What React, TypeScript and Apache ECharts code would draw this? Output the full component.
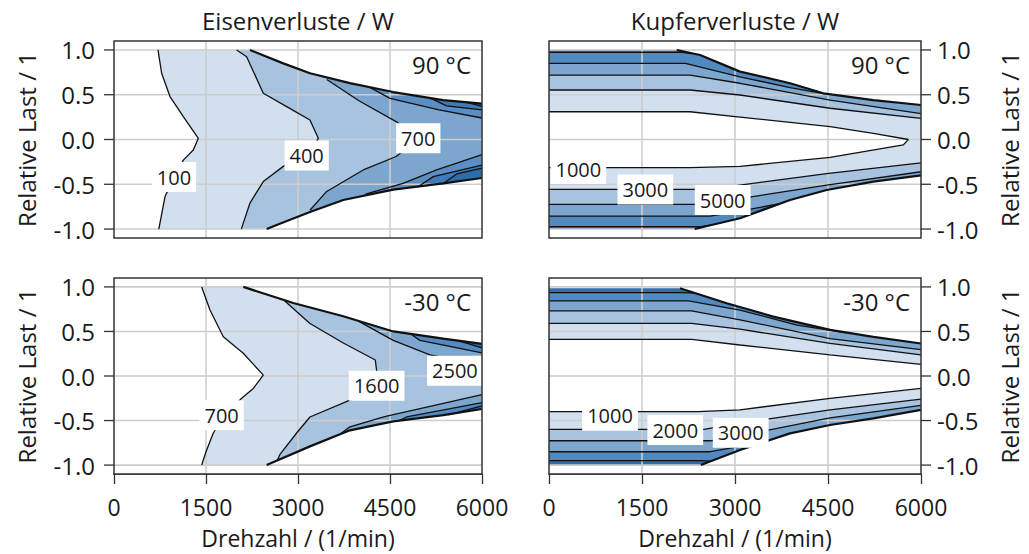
import React, { useEffect, useRef } from "react";
import * as echarts from "echarts";

type Pt = [number, number];

const FONT = "'Open Sans', 'Noto Sans', sans-serif";
const TXT = "#1a1a1a";

const rpmTicks = [0, 1500, 3000, 4500, 6000];
const rpmGrid = [1500, 3000, 4500];
const loadTicks = [-1, -0.5, 0, 0.5, 1];
const panelTitles = ["Eisenverluste / W", "Kupferverluste / W"];
const tempLabels = ["90 °C", "90 °C", "-30 °C", "-30 °C"];
const xName = "Drehzahl / (1/min)";
const yName = "Relative Last / 1";

const colors6 = ["#d2dfee", "#a8c3df", "#7da6cf", "#5b8ec4", "#3f7bb8", "#2d6cab"];
const colors5 = ["#d2dfee", "#a8c3df", "#7da6cf", "#5189c1", "#2f6eac"];

// ---------- Eisenverluste 90 °C ----------
const feHotLevels = [100, 400, 700, 1000, 1300, 1600];
const feHotUpper: Pt[] = [[0, 1.0], [2217, 1.0], [2760, 0.85], [3195, 0.74], [3847, 0.63], [4553, 0.53], [5368, 0.44], [6000, 0.4]];
const feHotLower: Pt[] = [[0, -1.0], [2489, -1.0], [2652, -0.955], [3195, -0.81], [3738, -0.676], [4553, -0.56], [5368, -0.49], [6000, -0.43]];
const feHot100: Pt[] = [[717, 1.0], [777, 0.74], [913, 0.48], [1130, 0.255], [1375, 0.013], [1293, -0.117], [1130, -0.23], [960, -0.45], [831, -0.64], [739, -0.97], [730, -1.0]];
const feHot400: Pt[] = [[2000, 1.0], [2162, 0.925], [2434, 0.516], [2815, 0.367], [3195, 0.218], [3331, 0.013], [3200, -0.15], [2760, -0.3], [2434, -0.47], [2217, -0.71], [2081, -0.99], [2075, -1.0]];
const feHot700: Pt[] = [[3470, 0.67], [4000, 0.43], [4600, 0.2], [4950, 0.0], [4600, -0.19], [4064, -0.34], [3467, -0.58], [3195, -0.79]];
const feHot1000u: Pt[] = [[4150, 0.59], [4500, 0.46], [5300, 0.33], [6000, 0.24]];
const feHot1000l: Pt[] = [[4100, -0.61], [4712, -0.49], [5260, -0.34], [6000, -0.17]];
const feHot1300u: Pt[] = [[5150, 0.465], [5423, 0.375], [6000, 0.33]];
const feHot1300l: Pt[] = [[4950, -0.53], [5205, -0.415], [6000, -0.285]];
const feHot1600u: Pt[] = [[5750, 0.415], [6000, 0.37]];
const feHot1600l: Pt[] = [[5350, -0.5], [5586, -0.385], [6000, -0.32]];
const feHotLabels: [number, number, string][] = [[978, -0.42, "100"], [3141, -0.18, "400"], [4961, 0.013, "700"]];

// ---------- Kupferverluste 90 °C ----------
const cuHotLevels = [1000, 3000, 5000, 7000, 9000];
const cuHotUpper: Pt[] = [[0, 1.0], [2060, 1.0], [2436, 0.944], [3081, 0.758], [3888, 0.628], [4425, 0.516], [5231, 0.44], [6000, 0.385]];
const cuHotLower: Pt[] = [[0, -1.0], [2350, -1.0], [3081, -0.88], [3888, -0.676], [4479, -0.564], [5231, -0.47], [6000, -0.4]];
const cuHot1000: Pt[] = [[0, 0.31], [2274, 0.31], [3081, 0.25], [4533, 0.143], [5231, 0.069], [5796, 0.0], [5715, -0.06], [4533, -0.2], [3081, -0.3], [2274, -0.315], [0, -0.315]];
const cuHot3000u: Pt[] = [[0, 0.553], [2274, 0.553], [3081, 0.497], [4533, 0.349], [6000, 0.235]];
const cuHot3000l: Pt[] = [[0, -0.557], [2650, -0.557], [3081, -0.51], [4479, -0.38], [6000, -0.26]];
const cuHot5000u: Pt[] = [[0, 0.72], [2274, 0.72], [3081, 0.628], [4533, 0.44], [6000, 0.29]];
const cuHot5000l: Pt[] = [[0, -0.724], [2650, -0.724], [3081, -0.66], [4479, -0.51], [6000, -0.36]];
const cuHot7000u: Pt[] = [[0, 0.851], [2200, 0.851], [3081, 0.7], [3888, 0.58], [4450, 0.51]];
const cuHot7000l: Pt[] = [[0, -0.855], [2600, -0.855], [3081, -0.8], [3700, -0.72]];
const cuHot9000u: Pt[] = [[0, 0.974], [2150, 0.974], [2300, 0.96]];
const cuHot9000l: Pt[] = [[0, -0.974], [2450, -0.974], [2600, -0.955]];
const cuHotLabels: [number, number, string][] = [[473, -0.33, "1000"], [1554, -0.557, "3000"], [2801, -0.676, "5000"]];

// ---------- Eisenverluste -30 °C ----------
const feColdLevels = [700, 1600, 2500, 3400, 4300];
const feColdUpper: Pt[] = [[0, 1.0], [2108, 1.0], [2923, 0.82], [3738, 0.67], [4553, 0.5], [5368, 0.42], [6000, 0.36]];
const feColdLower: Pt[] = [[0, -1.0], [2489, -1.0], [3195, -0.79], [3847, -0.61], [4553, -0.51], [5368, -0.44], [6000, -0.37]];
const feCold700: Pt[] = [[1429, 1.0], [1565, 0.74], [1782, 0.44], [2108, 0.255], [2434, 0.01], [2271, -0.14], [2081, -0.25], [1800, -0.45], [1619, -0.64], [1500, -0.85], [1429, -1.0]];
const feCold1600: Pt[] = [[2780, 0.845], [3195, 0.59], [3738, 0.37], [4260, 0.18], [4290, 0.02], [4150, -0.2], [3847, -0.27], [3195, -0.46], [2978, -0.64], [2706, -0.88], [2660, -0.95]];
const feCold2500u: Pt[] = [[4000, 0.61], [4553, 0.4], [5151, 0.236], [6000, 0.13]];
const feCold2500l: Pt[] = [[3700, -0.645], [3847, -0.57], [4412, -0.457], [6000, -0.21]];
const feCold3400u: Pt[] = [[4850, 0.465], [4988, 0.4], [6000, 0.26]];
const feCold3400l: Pt[] = [[4650, -0.5], [4771, -0.46], [6000, -0.3]];
const feCold4300u: Pt[] = [[5600, 0.4], [6000, 0.315]];
const feCold4300l: Pt[] = [[5450, -0.435], [6000, -0.335]];
const feColdLabels: [number, number, string][] = [[1755, -0.44, "700"], [4282, -0.11, "1600"], [5558, 0.06, "2500"]];

// ---------- Kupferverluste -30 °C ----------
const cuColdLevels = [1000, 2000, 3000, 4000, 5000];
const cuColdUpper: Pt[] = [[0, 0.985], [2113, 0.985], [2866, 0.817], [3618, 0.666], [4533, 0.517], [5231, 0.44], [6000, 0.365]];
const cuColdLower: Pt[] = [[0, -1.0], [2450, -1.0], [3081, -0.83], [3888, -0.644], [4533, -0.55], [5231, -0.475], [6000, -0.38]];
const cuCold1000u: Pt[] = [[0, 0.41], [2300, 0.41], [3081, 0.348], [4533, 0.236], [6000, 0.13]];
const cuCold1000l: Pt[] = [[0, -0.4], [2400, -0.4], [3081, -0.38], [4533, -0.25], [6000, -0.138]];
const cuCold2000u: Pt[] = [[0, 0.59], [2300, 0.59], [3081, 0.525], [4533, 0.367], [6000, 0.236]];
const cuCold2000l: Pt[] = [[0, -0.6], [2500, -0.6], [3081, -0.53], [4533, -0.38], [6000, -0.26]];
const cuCold3000u: Pt[] = [[0, 0.73], [2300, 0.73], [3081, 0.63], [4533, 0.42], [6000, 0.295]];
const cuCold3000l: Pt[] = [[0, -0.727], [2600, -0.727], [3300, -0.64], [4533, -0.47], [6000, -0.33]];
const cuCold4000u: Pt[] = [[0, 0.843], [2250, 0.843], [3081, 0.74], [4000, 0.57], [4800, 0.485]];
const cuCold4000l: Pt[] = [[0, -0.85], [2600, -0.85], [3081, -0.79], [3350, -0.76]];
const cuCold5000u: Pt[] = [[0, 0.936], [2150, 0.936], [2350, 0.93]];
const cuCold5000l: Pt[] = [[0, -0.95], [2450, -0.95], [2620, -0.955]];
const cuColdLabels: [number, number, string][] = [[984, -0.446, "1000"], [2037, -0.607, "2000"], [3092, -0.637, "3000"]];

type Contour = { lvl: number; pts: Pt[] };
type Panel = {
  levels: number[];
  colors: string[];
  upper: Pt[];
  lower: Pt[];
  contours: Contour[];
  labels: [number, number, string][];
};

const panels: Panel[] = [
  {
    levels: feHotLevels, colors: colors6, upper: feHotUpper, lower: feHotLower, labels: feHotLabels,
    contours: [
      { lvl: 100, pts: feHot100 }, { lvl: 400, pts: feHot400 }, { lvl: 700, pts: feHot700 },
      { lvl: 1000, pts: feHot1000u }, { lvl: 1000, pts: feHot1000l },
      { lvl: 1300, pts: feHot1300u }, { lvl: 1300, pts: feHot1300l },
      { lvl: 1600, pts: feHot1600u }, { lvl: 1600, pts: feHot1600l },
    ],
  },
  {
    levels: cuHotLevels, colors: colors5, upper: cuHotUpper, lower: cuHotLower, labels: cuHotLabels,
    contours: [
      { lvl: 1000, pts: cuHot1000 },
      { lvl: 3000, pts: cuHot3000u }, { lvl: 3000, pts: cuHot3000l },
      { lvl: 5000, pts: cuHot5000u }, { lvl: 5000, pts: cuHot5000l },
      { lvl: 7000, pts: cuHot7000u }, { lvl: 7000, pts: cuHot7000l },
      { lvl: 9000, pts: cuHot9000u }, { lvl: 9000, pts: cuHot9000l },
    ],
  },
  {
    levels: feColdLevels, colors: colors5, upper: feColdUpper, lower: feColdLower, labels: feColdLabels,
    contours: [
      { lvl: 700, pts: feCold700 }, { lvl: 1600, pts: feCold1600 },
      { lvl: 2500, pts: feCold2500u }, { lvl: 2500, pts: feCold2500l },
      { lvl: 3400, pts: feCold3400u }, { lvl: 3400, pts: feCold3400l },
      { lvl: 4300, pts: feCold4300u }, { lvl: 4300, pts: feCold4300l },
    ],
  },
  {
    levels: cuColdLevels, colors: colors5, upper: cuColdUpper, lower: cuColdLower, labels: cuColdLabels,
    contours: [
      { lvl: 1000, pts: cuCold1000u }, { lvl: 1000, pts: cuCold1000l },
      { lvl: 2000, pts: cuCold2000u }, { lvl: 2000, pts: cuCold2000l },
      { lvl: 3000, pts: cuCold3000u }, { lvl: 3000, pts: cuCold3000l },
      { lvl: 4000, pts: cuCold4000u }, { lvl: 4000, pts: cuCold4000l },
      { lvl: 5000, pts: cuCold5000u }, { lvl: 5000, pts: cuCold5000l },
    ],
  },
];

const grids = [
  { left: 114, top: 41, width: 368, height: 197 },
  { left: 549, top: 41, width: 372, height: 197 },
  { left: 114, top: 278, width: 368, height: 196 },
  { left: 549, top: 278, width: 372, height: 196 },
];

const OUT = 1.3;
function closeRegion(pts: Pt[]): Pt[] {
  const f = pts[0];
  const l = pts[pts.length - 1];
  const s0 = f[1] >= 0 ? 1 : -1;
  const s1 = l[1] >= 0 ? 1 : -1;
  return [[f[0], s0 * OUT], ...pts, [l[0], s1 * OUT], [6100, s1 * OUT], [6100, s0 * OUT]];
}
function maskAbove(edge: Pt[]): Pt[] {
  return [[-100, edge[0][1]], ...edge, [6100, edge[edge.length - 1][1]], [6100, OUT], [-100, OUT]];
}
function maskBelow(edge: Pt[]): Pt[] {
  return [[-100, edge[0][1]], ...edge, [6100, edge[edge.length - 1][1]], [6100, -OUT], [-100, -OUT]];
}

const FS = 24;
const FSX = 23;

function buildOption(): any {
  const series: any[] = [];
  const xAxis: any[] = [];
  const yAxis: any[] = [];
  const graphic: any[] = [];

  panels.forEach((p, i) => {
    const bottom = i >= 2;
    const leftSide = i % 2 === 0;
    xAxis.push({
      gridIndex: i, type: "value", min: rpmTicks[0], max: rpmTicks[rpmTicks.length - 1], interval: 1500,
      axisLine: { show: bottom, onZero: false, lineStyle: { color: "#333", width: 1.5 } }, splitLine: { show: false },
      axisTick: { show: bottom, length: 10, lineStyle: { color: "#333", width: 1.3 } },
      axisLabel: { show: bottom, fontSize: FSX, margin: 21, color: TXT, fontFamily: FONT, formatter: (v: number) => String(v) },
      name: bottom ? xName : "", nameLocation: "middle", nameGap: 52,
      nameTextStyle: { fontSize: FSX, color: TXT, fontFamily: FONT },
    });
    yAxis.push({
      gridIndex: i, type: "value", min: -1.1, max: 1.1, position: leftSide ? "left" : "right",
      axisLine: { show: false, onZero: false }, splitLine: { show: false },
      axisTick: { show: false },
      axisLabel: {
        show: true, customValues: loadTicks, fontSize: FS, margin: leftSide ? 19 : 16, color: TXT, fontFamily: FONT,
        formatter: (v: number) => Number(v).toFixed(1),
      },
      name: yName, nameLocation: "middle", nameRotate: 90, nameGap: 76,
      nameTextStyle: { fontSize: FS, color: TXT, fontFamily: FONT },
    });

    // filled regions (lowest level first), then white masks outside the operating range
    const sorted = [...p.contours].sort((a, b) => a.lvl - b.lvl);
    const polys = sorted.map((c) => ({ pts: closeRegion(c.pts), color: p.colors[p.levels.indexOf(c.lvl)] }));
    polys.push({ pts: maskAbove(p.upper), color: "#ffffff" });
    polys.push({ pts: maskBelow(p.lower), color: "#ffffff" });
    series.push({
      type: "custom", coordinateSystem: "cartesian2d", xAxisIndex: i, yAxisIndex: i, clip: true, silent: true, z: 1,
      data: polys.map((q, k) => [q.pts[1][0], q.pts[1][1], k]),
      renderItem: (params: any, api: any) => {
        const q = polys[params.dataIndex];
        return {
          type: "polygon", z2: params.dataIndex,
          shape: { points: q.pts.map((pt) => api.coord(pt)) },
          style: { fill: q.color, stroke: null },
        };
      },
    });

    // grid lines on top of fills
    const gl: [number, number][] = [
      ...loadTicks.map((v) => [0, v] as [number, number]),
      ...rpmGrid.map((v) => [1, v] as [number, number]),
    ];
    series.push({
      type: "custom", coordinateSystem: "cartesian2d", xAxisIndex: i, yAxisIndex: i, clip: true, silent: true, z: 3,
      data: gl.map((g) => (g[0] === 0 ? [3000, g[1], 0] : [g[1], 0, 1])),
      renderItem: (params: any, api: any) => {
        const g = gl[params.dataIndex];
        const a = g[0] === 0 ? api.coord([0, g[1]]) : api.coord([g[1], -1.1]);
        const b = g[0] === 0 ? api.coord([6000, g[1]]) : api.coord([g[1], 1.1]);
        return {
          type: "line", shape: { x1: a[0], y1: a[1], x2: b[0], y2: b[1] },
          style: { stroke: "#cdcdcd", lineWidth: 1.6 },
        };
      },
    });

    // y-axis tick marks (outside the plot)
    const xEdge = leftSide ? 0 : 6000;
    const dir = leftSide ? -1 : 1;
    series.push({
      type: "custom", coordinateSystem: "cartesian2d", xAxisIndex: i, yAxisIndex: i, clip: false, silent: true, z: 5,
      data: loadTicks.map((v) => [xEdge, v]),
      renderItem: (params: any, api: any) => {
        const c = api.coord([xEdge, loadTicks[params.dataIndex]]);
        return {
          type: "line", shape: { x1: c[0], y1: c[1], x2: c[0] + dir * 10, y2: c[1] },
          style: { stroke: "#333", lineWidth: 1.3 },
        };
      },
    });

    // contour lines
    p.contours.forEach((c) => {
      series.push({
        type: "line", xAxisIndex: i, yAxisIndex: i, data: c.pts, symbol: "none", silent: true, z: 4,
        lineStyle: { color: "#111", width: 1.3 },
      });
    });
    // envelope edges
    [p.upper.slice(1), p.lower.slice(1)].forEach((e) => {
      series.push({
        type: "line", xAxisIndex: i, yAxisIndex: i, data: e, symbol: "none", silent: true, z: 4,
        lineStyle: { color: "#111", width: 2.2 },
      });
    });
    // contour labels
    const labs = p.labels;
    series.push({
      type: "custom", coordinateSystem: "cartesian2d", xAxisIndex: i, yAxisIndex: i, clip: false, silent: true, z: 6,
      data: labs.map((l) => [l[0], l[1]]),
      renderItem: (params: any, api: any) => {
        const l = labs[params.dataIndex];
        const c = api.coord([l[0], l[1]]);
        return {
          type: "text", x: c[0], y: c[1],
          style: {
            text: l[2], fill: TXT, font: `20px ${FONT}`, align: "center", verticalAlign: "middle",
            backgroundColor: "#ffffff", padding: [5, 5, 5, 5],
          },
        };
      },
    });

    const g = grids[i];
    graphic.push({
      type: "rect", z: 100, silent: true,
      shape: { x: g.left, y: g.top, width: g.width, height: g.height },
      style: { fill: "none", stroke: "#333", lineWidth: 1.5 },
    });
    graphic.push({
      type: "text", z: 100, silent: true, x: g.left + g.width - 11, y: g.top + 23,
      style: { text: tempLabels[i], font: `${FS}px ${FONT}`, fill: TXT, align: "right", verticalAlign: "middle", textAlign: "right", textVerticalAlign: "middle" },
    });
  });

  [0, 1].forEach((k) => {
    const g = grids[k];
    graphic.push({
      type: "text", z: 100, silent: true, x: g.left + g.width / 2, y: 20,
      style: { text: panelTitles[k], font: `${FS}px ${FONT}`, fill: TXT, align: "center", verticalAlign: "middle", textAlign: "center", textVerticalAlign: "middle" },
    });
  });

  return {
    animation: false,
    backgroundColor: "#ffffff",
    grid: grids.map((g) => ({ ...g, containLabel: false })),
    xAxis, yAxis, series, graphic,
  };
}

export default function App() {
  const ref = useRef<HTMLDivElement>(null);
  useEffect(() => {
    const chart = echarts.init(ref.current!, null, { renderer: "svg" });
    chart.setOption(buildOption());
    return () => chart.dispose();
  }, []);
  return (
    <div
      ref={ref}
      style={{ position: "fixed", left: 0, top: 0, width: 1029, height: 554, background: "#fff" }}
    />
  );
}
